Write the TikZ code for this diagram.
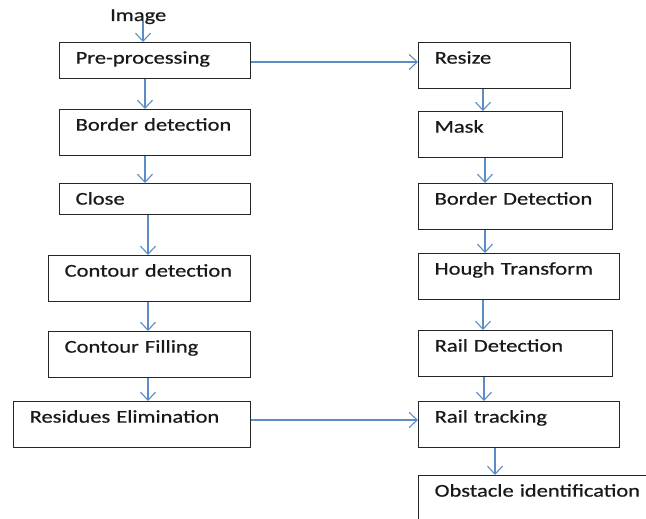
\documentclass[tikz,border=0pt]{standalone}
\usepackage{fontspec}
\setmainfont[FakeStretch=1.25,FakeBold=0.6]{Carlito}
\usetikzlibrary{arrows.meta}
\definecolor{arrblue}{HTML}{5B8CC8}
\definecolor{boxline}{HTML}{262626}
\tikzset{
  box/.style={draw=boxline, line width=1.3pt, inner xsep=16pt, inner ysep=0pt,
    align=left, text height=21pt, anchor=north west, font=\fontsize{18}{20}\selectfont, text=black!90},
  arr/.style={draw=arrblue, line width=1.1pt, -{Straight Barb[length=8pt,width=15pt,line width=1.1pt]}},
  lbl/.style={font=\fontsize{18}{20}\selectfont, inner sep=0pt, anchor=base west, text=black!90}
}
\newcommand{\bx}[7]{\node[box, text width=#5pt, text depth=#6pt] (#1) at (#2pt,-#3pt) {\mbox{#7}};}
\begin{document}
\begin{tikzpicture}[x=1pt,y=1pt]
\useasboundingbox (0,0) rectangle (646,-519);
\node[lbl] (img) at (110,-21) {Image};
% left column: name, x, y, width(W), text width (W-32), text depth (H-21), text
\bx{pre}{59}{42}{191}{159}{15}{Pre-processing}
\bx{bd}{59}{109}{191}{159}{25}{Border detection}
\bx{close}{59}{183}{191}{159}{10}{Close}
\bx{cd}{48}{255}{202}{170}{25}{Contour detection}
\bx{cf}{48}{331}{202}{170}{25}{Contour Filling}
\bx{re}{13}{401}{237}{205}{25}{Residues Elimination}
% right column
\bx{rs}{418}{42}{152}{120}{25}{Resize}
\bx{mask}{418}{111}{144}{112}{25}{Mask}
\bx{bdd}{418}{183}{194}{162}{25}{Border Detection}
\bx{hough}{418}{253}{201}{169}{25}{Hough Transform}
\bx{rd}{418}{330}{194}{162}{25}{Rail Detection}
\bx{rt}{418}{401}{201}{169}{25}{Rail tracking}
\bx{obs}{418}{475}{242}{210}{44}{Obstacle identification}
% vertical connector x positions
\coordinate (c0) at (143,0);
\coordinate (c1) at (145,0);
\coordinate (c2) at (148,0);
\coordinate (c3) at (483,0);
\coordinate (c4) at (485,0);
\coordinate (c5) at (484,0);
\coordinate (c6) at (495,0);
\draw[arr] (img.base -| c0) -- (pre.north -| c0);
\draw[arr] (pre.south -| c1) -- (bd.north -| c1);
\draw[arr] (bd.south -| c1) -- (close.north -| c1);
\draw[arr] (close.south -| c2) -- (cd.north -| c2);
\draw[arr] (cd.south -| c2) -- (cf.north -| c2);
\draw[arr] (cf.south -| c2) -- (re.north -| c2);
\draw[arr] (rs.south -| c3) -- (mask.north -| c3);
\draw[arr] (mask.south -| c4) -- (bdd.north -| c4);
\draw[arr] (bdd.south -| c4) -- (hough.north -| c4);
\draw[arr] (hough.south -| c3) -- (rd.north -| c3);
\draw[arr] (rd.south -| c5) -- (rt.north -| c5);
\draw[arr] (rt.south -| c6) -- (obs.north -| c6);
% horizontal connectors
\coordinate (h1) at (0,-62);
\coordinate (h2) at (0,-420);
\draw[arr] (pre.east |- h1) -- (rs.west |- h1);
\draw[arr] (re.east |- h2) -- (rt.west |- h2);
\end{tikzpicture}
\end{document}
